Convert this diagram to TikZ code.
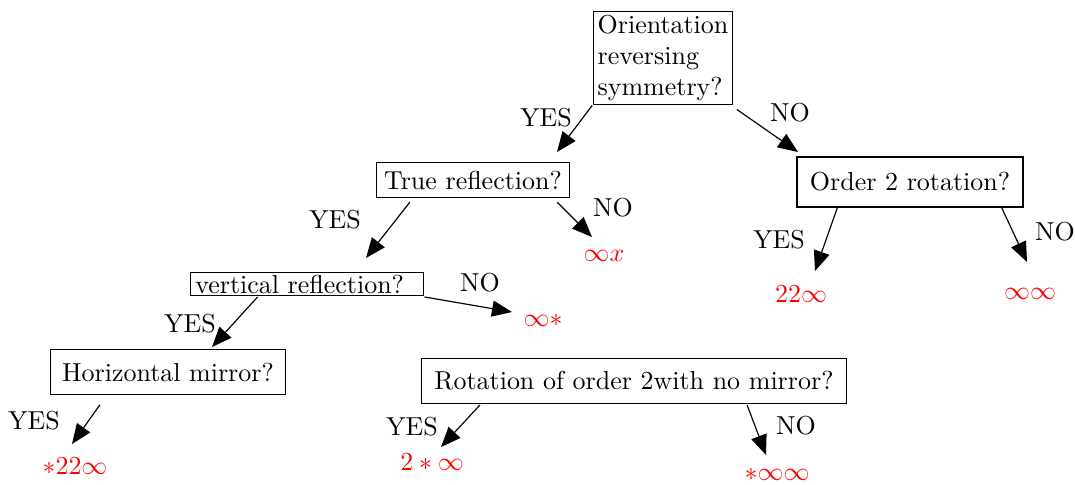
\documentclass[tikz,border=0pt]{standalone}
\usetikzlibrary{arrows.meta,calc}
\begin{document}
\begin{tikzpicture}[x=0.385pt,y=-0.385pt,
  qbox/.style={draw,line width=0.45pt,inner sep=1.5pt},
  leaf/.style={text=red,inner sep=0pt},
  lbl/.style={inner sep=0pt},
  arr/.style={-{Triangle[length=7.7pt,width=6.2pt]},line width=0.45pt}]
\useasboundingbox (0,0) rectangle (1075,484);
% question boxes
\node[qbox,align=left] (q1) at (663,58) {Orientation\\reversing\\symmetry?};
\node[qbox,inner xsep=3pt,inner ysep=3.2pt] (q2) at (473,180) {True reflection?};
\node[qbox,inner xsep=5pt,inner ysep=6pt] (q3) at (910,182) {Order 2 rotation?};
\node[qbox,inner xsep=2pt,inner ysep=0.8pt,text width=86pt,align=left] (q4) at (307,284) {vertical reflection?};
\node[qbox,inner xsep=4.5pt,inner ysep=5pt] (q5) at (168,372) {Horizontal mirror?};
\node[qbox,inner xsep=5pt,inner ysep=5pt] (q6) at (634,381) {Rotation of order 2with no mirror?};
% leaves
\node[leaf] (l1) at (604,256) {$\infty x$};
\node[leaf] (l2) at (801,294) {$22\infty$};
\node[leaf] (l3) at (1030,294) {$\infty\infty$};
\node[leaf] (l4) at (543,320) {$\infty *$};
\node[leaf] (l5) at (75,466) {$*22\infty$};
\node[leaf] (l6) at (432,462) {$2*\infty$};
\node[leaf] (l7) at (777,474) {$*\infty\infty$};
% labels
\node[lbl] (y1) at (546,118) {YES};
\node[lbl] (n1) at (790,113) {NO};
\node[lbl] (y2) at (335,220) {YES};
\node[lbl] (n2) at (613,208) {NO};
\node[lbl] (y3) at (779,240) {YES};
\node[lbl] (n3) at (1055,232) {NO};
\node[lbl] (y4) at (190,324) {YES};
\node[lbl] (n4) at (480,283) {NO};
\node[lbl] (y5) at (34,421) {YES};
\node[lbl] (y6) at (412,427) {YES};
\node[lbl] (n6) at (796,426) {NO};
% arrow end points
\coordinate (e1) at (557,152);
\coordinate (e2) at (798,152);
\coordinate (e3) at (366,258);
\coordinate (e4) at (592,237);
\coordinate (e5) at (815,271);
\coordinate (e6) at (1027,262);
\coordinate (e7) at (212,347);
\coordinate (e8) at (512,312);
\coordinate (e9) at (72,444);
\coordinate (e10) at (441,447);
\coordinate (e11) at (766,455);
% arrows
\draw[arr] ($(q1.south west)+(-1,0)$) -- (e1);
\draw[arr] ($(q1.south east)+(4,4)$) -- (e2);
\draw[arr] ($(q2.south west)+(34,4)$) -- (e3);
\draw[arr] ($(q2.south east)+(-13,4)$) -- (e4);
\draw[arr] ($(q3.south west)+(41,0)$) -- (e5);
\draw[arr] ($(q3.south east)+(-22,0)$) -- (e6);
\draw[arr] ($(q4.south west)+(68,1)$) -- (e7);
\draw[arr] ($(q4.south east)+(0,1)$) -- (e8);
\draw[arr] ($(q5.south west)+(50,10)$) -- (e9);
\draw[arr] ($(q6.south west)+(59,1)$) -- (e10);
\draw[arr] ($(q6.south east)+(-100,1)$) -- (e11);
\end{tikzpicture}
\end{document}
